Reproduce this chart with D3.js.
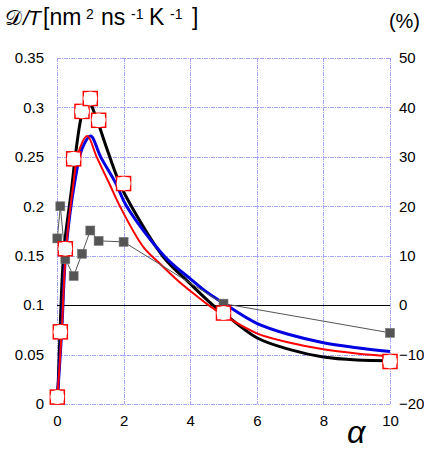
<!DOCTYPE html>
<html>
<head>
<meta charset="utf-8">
<script src="https://cdn.jsdelivr.net/npm/d3@7"></script>
<style>
  html, body { margin: 0; padding: 0; background: #fff; }
  svg { display: block; }
  text { font-family: "Liberation Sans", Arial, sans-serif; fill: #000; }
</style>
</head>
<body>
<svg id="chart" width="424" height="451"></svg>
<script>
// Measured diffusion coefficient over temperature vs. alpha (open red markers)
const alphaMeas = [0.01, 0.1, 0.25, 0.5, 0.75, 1, 1.25, 2, 5, 10];
const dtMeas    = [0.007, 0.073, 0.157, 0.248, 0.296, 0.309, 0.287, 0.223, 0.092, 0.043];

// Relative deviation in % (grey squares, right axis)
const alphaDev = [0.01, 0.1, 0.25, 0.5, 0.75, 1, 1.25, 2, 5, 10];
const devPct   = [13.5, 20, 9.3, 5.9, 10.4, 15.1, 13, 12.8, 0.3, -5.6];

// Model curves: [alpha, D/T]
const curveBlack = [[0,0],[0.04,0.024],[0.09,0.073],[0.21,0.156],[0.44,0.218],[0.54,0.248],[0.69,0.284],[0.8,0.300],[0.91,0.306],[1.0,0.304],[1.14,0.293],[1.25,0.283],[1.49,0.259],[1.87,0.224],[2.2,0.202],[3.19,0.149],[3.99,0.122],[4.69,0.0998],[5,0.092],[6,0.067],[7,0.055],[8,0.0475],[9,0.0445],[10,0.0438]];
const curveBlue  = [[0,0],[0.01,0.005],[0.14,0.073],[0.27,0.156],[0.54,0.226],[0.75,0.258],[1.01,0.271],[1.31,0.25],[1.77,0.223],[2.09,0.2],[3.24,0.149],[3.99,0.127],[4.5,0.113],[5,0.102],[6,0.0816],[7,0.07],[8,0.062],[9,0.057],[10,0.053]];
const curveRed   = [[0,0],[0.01,0.005],[0.14,0.073],[0.27,0.156],[0.49,0.222],[0.64,0.254],[0.91,0.271],[1.19,0.25],[1.57,0.223],[1.89,0.2],[2.59,0.159],[3.09,0.142],[3.59,0.126],[4.09,0.112],[4.55,0.1],[5,0.09],[6,0.0715],[7,0.062],[8,0.0553],[9,0.051],[10,0.048]];

// Axis ticks
const xTicks = [0, 2, 4, 6, 8, 10];
const yTicks = [0, 0.05, 0.1, 0.15, 0.2, 0.25, 0.3, 0.35];
const yTickLabels = ["0", "0.05", "0.1", "0.15", "0.2", "0.25", "0.3", "0.35"];
const rTicks = [-20, -10, 0, 10, 20, 30, 40, 50];

const svg = d3.select("#chart");
const L = 57, R = 390, T = 58, B = 404;

const x  = d3.scaleLinear().domain([0, 10]).range([L, R]);
const y  = d3.scaleLinear().domain([0, 0.35]).range([B, T]);
const yR = d3.scaleLinear().domain([-20, 50]).range([B, T]);

// grid (doubles as the plot frame)
const grid = svg.append("g").attr("stroke", "#6a6aff").attr("stroke-width", 1)
  .attr("stroke-dasharray", "4,1,1,1").attr("fill", "none").attr("opacity", 0.6);
grid.selectAll("line.v").data(xTicks).join("line")
  .attr("x1", d => Math.round(x(d)) + 0.5).attr("x2", d => Math.round(x(d)) + 0.5)
  .attr("y1", T).attr("y2", B);
grid.selectAll("line.h").data(yTicks).join("line")
  .attr("y1", d => Math.round(y(d)) + 0.5).attr("y2", d => Math.round(y(d)) + 0.5)
  .attr("x1", L).attr("x2", R);

// zero line of the right axis
svg.append("line")
  .attr("x1", L).attr("x2", R)
  .attr("y1", Math.round(yR(0)) + 0.5).attr("y2", Math.round(yR(0)) + 0.5)
  .attr("stroke", "#000").attr("stroke-width", 1);

// axes (labels only)
const fs = 15;
const axL = svg.append("g").attr("transform", `translate(${L - 13},0)`)
  .call(d3.axisLeft(y).tickValues(yTicks).tickSize(0).tickPadding(0)
    .tickFormat((d, i) => yTickLabels[i]));
const axR = svg.append("g").attr("transform", `translate(${R + 9},0)`)
  .call(d3.axisRight(yR).tickValues(rTicks).tickSize(0).tickPadding(0));
const axB = svg.append("g").attr("transform", `translate(0,${B + 11})`)
  .call(d3.axisBottom(x).tickValues(xTicks).tickSize(0).tickPadding(0));
[axL, axR, axB].forEach(a => {
  a.select(".domain").remove();
  a.selectAll("text").attr("font-size", fs)
    .attr("font-family", "'Liberation Sans', Arial, sans-serif").attr("fill", "#000");
});

// curves
const line = d3.line().x(d => x(d[0])).y(d => y(d[1])).curve(d3.curveCatmullRom.alpha(0.5));
svg.append("path").datum(curveBlack).attr("d", line)
  .attr("fill", "none").attr("stroke", "#000").attr("stroke-width", 3);
svg.append("path").datum(curveBlue).attr("d", line)
  .attr("fill", "none").attr("stroke", "#0000e0").attr("stroke-width", 3);
svg.append("path").datum(curveRed).attr("d", line)
  .attr("fill", "none").attr("stroke", "#ff0000").attr("stroke-width", 2);

// deviation series
const dev = alphaDev.map((a, i) => [a, devPct[i]]);
svg.append("path").datum(dev)
  .attr("d", d3.line().x(d => x(d[0])).y(d => yR(d[1])))
  .attr("fill", "none").attr("stroke", "#555").attr("stroke-width", 1);
const gs = 9;
svg.append("g").selectAll("rect").data(dev).join("rect")
  .attr("x", d => x(d[0]) - gs / 2).attr("y", d => yR(d[1]) - gs / 2)
  .attr("width", gs).attr("height", gs)
  .attr("fill", "#555").attr("stroke", "#777").attr("stroke-width", 0.6);

// measured points
const meas = alphaMeas.map((a, i) => [a, dtMeas[i]]);
const ms = 14;
const mk = svg.append("g").selectAll("g").data(meas).join("g")
  .attr("transform", d => `translate(${x(d[0])},${y(d[1])})`);
mk.append("rect").attr("x", -ms / 2).attr("y", -ms / 2).attr("width", ms).attr("height", ms)
  .attr("fill", "#fff").attr("stroke", "#ff0000").attr("stroke-width", 1.5);
mk.append("circle").attr("r", 7).attr("fill", "#fff");

// title on the left axis
const title = svg.append("text").attr("x", 5).attr("y", 25).attr("font-size", 21);
title.append("tspan").attr("font-family", "'DejaVu Sans', serif").text("𝒟");
title.append("tspan").attr("x", 23).attr("font-style", "italic").text("/");
title.append("tspan").attr("x", 28).attr("font-style", "italic").text("T");
const unitParts = [
  { t: "[nm", x: 43, sup: false },
  { t: "2",   x: 86, sup: true },
  { t: "ns",  x: 101, sup: false },
  { t: "-1",  x: 131, sup: true },
  { t: "K",   x: 149, sup: false },
  { t: "-1",  x: 170, sup: true },
  { t: "]",   x: 192, sup: false }
];
const units = svg.append("text").attr("y", 25);
unitParts.forEach(d => {
  units.append("tspan").attr("x", d.x).attr("y", d.sup ? 19 : 25)
    .attr("font-size", d.sup ? 14 : 23).text(d.t);
});

svg.append("text").attr("x", 420).attr("y", 28).attr("text-anchor", "end")
  .attr("font-size", 20).text("(%)");

svg.append("text").attr("x", 356).attr("y", 443).attr("text-anchor", "middle")
  .attr("font-family", "'Liberation Serif', 'Times New Roman', serif")
  .attr("font-style", "italic").attr("font-size", 32).text("α");
</script>
</body>
</html>
